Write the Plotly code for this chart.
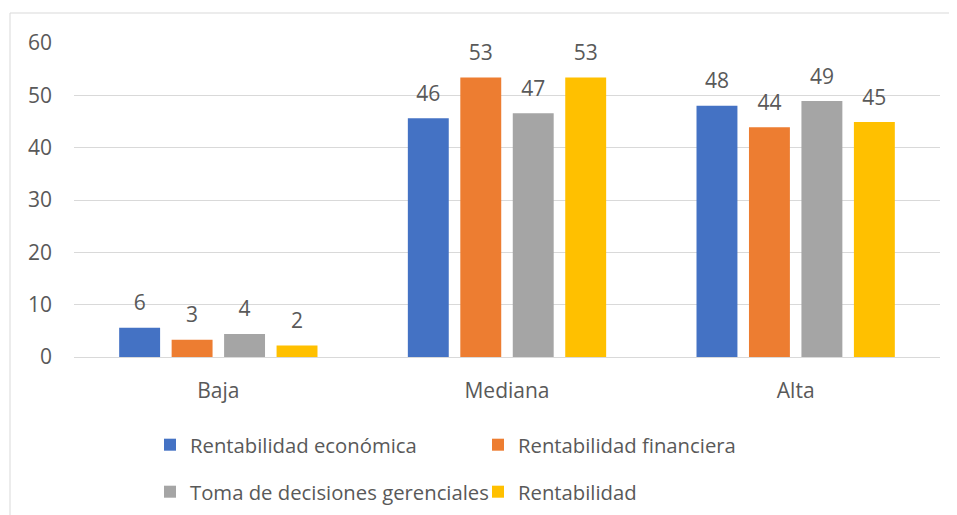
import plotly.graph_objects as go

categories = ["Baja", "Mediana", "Alta"]
series_names = ["Rentabilidad económica", "Rentabilidad financiera",
                "Toma de decisiones gerenciales", "Rentabilidad"]
rent_economica = [5.6, 45.6, 48.0]
rent_financiera = [3.3, 53.4, 43.9]
toma_decisiones = [4.4, 46.6, 48.9]
rentabilidad = [2.2, 53.4, 44.9]
y_ticks = [0, 10, 20, 30, 40, 50, 60]

colors = ["#4472C4", "#ED7D31", "#A5A5A5", "#FFC000"]
values = [rent_economica, rent_financiera, toma_decisiones, rentabilidad]
legends = ["legend", "legend", "legend2", "legend2"]

FONT = "Open Sans"
FS = 21
LFS = 20.3
TXT = "#595959"

OFF = 8  # page body margin
W, H = 957 - OFF, 515 - OFF
ml, mt = 74 - OFF, 43 - OFF
mr = W - (940 - OFF)
mb = H - (357 - OFF)
pw = W - ml - mr
ph = H - mt - mb

def px_x(p):
    return (p - OFF - ml) / pw

def px_y(p):
    return (H - mb - (p - OFF)) / ph

def cx(p):
    return (p - OFF) / W

def cy(p):
    return 1 - (p - OFF) / H

fig = go.Figure()
for name, vals, col, lg in zip(series_names, values, colors, legends):
    fig.add_trace(go.Bar(
        x=categories, y=vals, name=name, marker=dict(color=col, line=dict(width=0)),
        legend=lg,
    ))
for name, vals in zip(series_names, values):
    fig.add_trace(go.Scatter(
        x=categories, y=vals, mode="markers+text", showlegend=False,
        marker=dict(size=18, opacity=0), text=[f"{v:.0f}" for v in vals],
        textposition="top center", cliponaxis=False,
        textfont=dict(family=FONT, size=FS, color=TXT), hoverinfo="skip",
    ))

leg_common = dict(orientation="h", xanchor="left", yanchor="middle",
                  xref="container", yref="container",
                  entrywidth=283, font=dict(family=FONT, size=LFS, color=TXT),
                  itemclick=False, bgcolor="rgba(0,0,0,0)", traceorder="normal")

fig.update_layout(
    width=W, height=H,
    margin=dict(l=ml, r=mr, t=mt, b=mb, autoexpand=False),
    paper_bgcolor="white", plot_bgcolor="white",
    barmode="group", bargap=0.273, bargroupgap=0.22,
    scattermode="group", scattergap=0.273,
    font=dict(family=FONT, size=FS, color=TXT),
    yaxis=dict(range=[0, 60], tickvals=y_ticks, showgrid=True, gridcolor="#d9d9d9",
               gridwidth=1, zeroline=False, showline=False,
               tickfont=dict(family=FONT, size=FS, color=TXT), ticklabelstandoff=21),
    xaxis=dict(showline=True, linecolor="#d9d9d9", linewidth=1, ticks="",
               tickfont=dict(family=FONT, size=FS, color=TXT), ticklabelstandoff=15),
    legend=dict(x=cx(150), y=cy(445), **leg_common),
    legend2=dict(x=cx(150), y=cy(492), **leg_common),
    shapes=[
        dict(type="line", xref="paper", yref="paper", x0=px_x(10), x1=px_x(10),
             y0=px_y(520), y1=px_y(13), line=dict(color="#d9d9d9", width=1)),
        dict(type="line", xref="paper", yref="paper", x0=px_x(10), x1=px_x(962),
             y0=px_y(13), y1=px_y(13), line=dict(color="#d9d9d9", width=1)),
    ],
)

fig.write_html("out.html")
